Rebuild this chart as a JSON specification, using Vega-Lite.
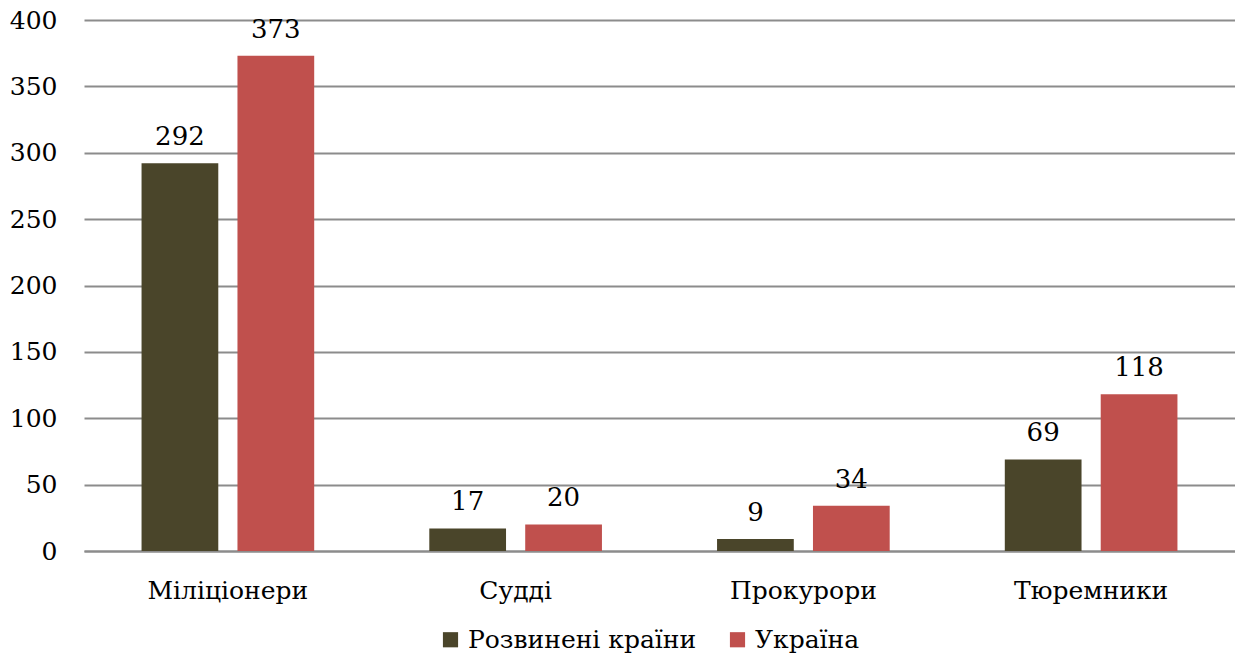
{
  "$schema": "https://vega.github.io/schema/vega-lite/v6.json",
  "width": 1151,
  "height": 531,
  "autosize": {"type": "none"},
  "padding": {"left": 84, "top": 20, "right": 0, "bottom": 106},
  "background": "white",
  "config": {
    "view": {"stroke": null},
    "font": "DejaVu Serif",
    "legend": {"labelFont": "DejaVu Serif"}
  },
  "data": {
    "values": [
      {"cat": "Міліціонери", "series": "Розвинені країни", "value": 292},
      {"cat": "Міліціонери", "series": "Україна", "value": 373},
      {"cat": "Судді", "series": "Розвинені країни", "value": 17},
      {"cat": "Судді", "series": "Україна", "value": 20},
      {"cat": "Прокурори", "series": "Розвинені країни", "value": 9},
      {"cat": "Прокурори", "series": "Україна", "value": 34},
      {"cat": "Тюремники", "series": "Розвинені країни", "value": 69},
      {"cat": "Тюремники", "series": "Україна", "value": 118}
    ]
  },
  "encoding": {
    "x": {
      "field": "cat", "type": "nominal", "sort": null,
      "scale": {"paddingInner": 0.4, "paddingOuter": 0.2},
      "axis": {"title": null, "labelAngle": 0, "labelFontSize": 25, "labelLimit": 400, "labelColor": "black", "labelFont": "DejaVu Serif", "ticks": false, "domainColor": "#8c8c8c", "domainWidth": 2, "labelPadding": 47, "labelBaseline": "alphabetic"}
    },
    "xOffset": {"field": "series", "type": "nominal", "sort": null, "scale": {"paddingInner": 0.2}},
    "y": {
      "field": "value", "type": "quantitative",
      "scale": {"domain": [0, 400], "nice": false},
      "axis": {"title": null, "values": [0,50,100,150,200,250,300,350,400], "labelOverlap": false, "labelFontSize": 25, "labelColor": "black", "labelFont": "DejaVu Serif", "ticks": false, "domain": false, "gridColor": "#8c8c8c", "gridWidth": 2, "labelPadding": 27}
    }
  },
  "layer": [
    {
      "mark": {"type": "bar"},
      "encoding": {
        "color": {
          "field": "series", "type": "nominal", "sort": null,
          "scale": {"domain": ["Розвинені країни", "Україна"], "range": ["#4A452A", "#C0504D"]},
          "legend": {"title": null, "orient": "none", "legendX": 354, "legendY": 607, "direction": "horizontal", "symbolType": "square", "symbolSize": 230, "symbolStrokeWidth": 0, "labelFontSize": 25, "labelFont": "DejaVu Serif", "labelColor": "black", "labelLimit": 500, "columnPadding": 28, "labelOffset": 5}
        }
      }
    },
    {
      "mark": {"type": "text", "baseline": "alphabetic", "dy": -18, "fontSize": 26, "font": "DejaVu Serif", "color": "black"},
      "encoding": {"text": {"field": "value", "type": "quantitative"}}
    }
  ]
}
